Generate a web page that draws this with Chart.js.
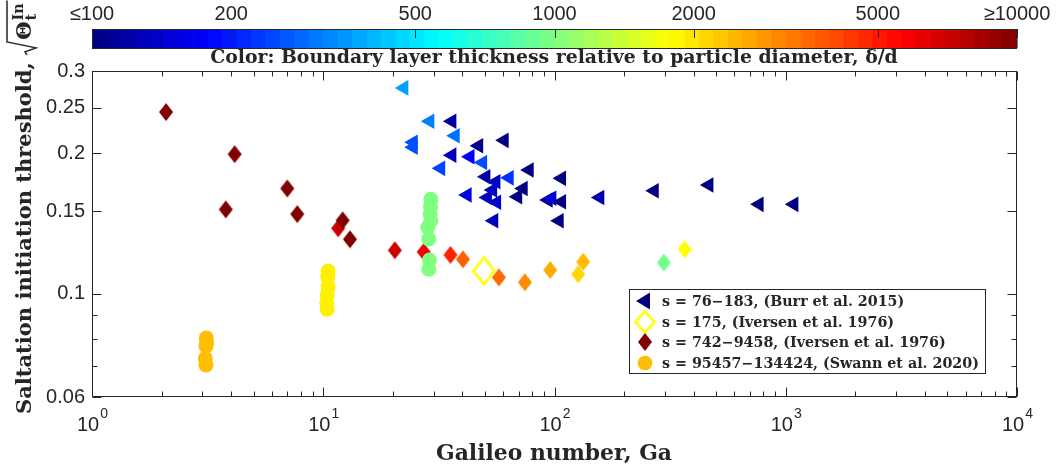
<!DOCTYPE html>
<html>
<head>
<meta charset="utf-8">
<script src="https://cdn.jsdelivr.net/npm/chart.js@4.4.1/dist/chart.umd.min.js"></script>
<style>
  body { margin: 0; background: #fff; }
  #wrap { width: 1056px; height: 469px; }
</style>
</head>
<body>
<div id="wrap"><canvas id="grafica" width="1056" height="469"></canvas></div>
<script>
// Burr et al. 2015, s = 76-183  (Ga, threshold, delta/d)
const burrGa = [22.3, 28.9, 36.0, 37.2, 24.5, 24.5, 47.0, 60.6, 36.0, 43.1, 48.9, 32.2, 50.5, 55.8, 63.7, 77.7, 107.3,
  41.9, 51.3, 56.2, 54.0, 69.3, 73.2, 93.9, 97.4, 107.3, 54.6, 104.8, 157, 270, 465, 767, 1084];
const burrTheta = [0.276, 0.234, 0.234, 0.218, 0.211, 0.206, 0.2075, 0.213, 0.198, 0.1965, 0.191, 0.1855, 0.178, 0.1737, 0.177, 0.184, 0.1766,
  0.1627, 0.1606, 0.1569, 0.1667, 0.1613, 0.168, 0.1587, 0.160, 0.1573, 0.1432, 0.1432, 0.1606, 0.1661, 0.1709, 0.1553, 0.1553];
const burrDelta = [367, 316, 116, 295, 254, 254, 108, 100, 133, 178, 254, 237, 116, 133, 221, 100, 100,
  154, 133, 140, 133, 100, 100, 116, 150, 100, 133, 100, 125, 100, 100, 100, 100];

// Iversen et al. 1976, s = 175
const iv175Ga = [49.5];
const iv175Theta = [0.1118];
const iv175Delta = [1780];

// Iversen et al. 1976, s = 742-9458
const ivGa = [2.09, 4.14, 3.79, 6.99, 7.72, 11.6, 12.13, 13.05, 20.4, 27.2, 35.5, 40.2, 57.5, 74.5, 95.8, 126.6, 133, 297, 366];
const ivTheta = [0.245, 0.199, 0.1515, 0.168, 0.148, 0.138, 0.1435, 0.1307, 0.1238, 0.1228, 0.121, 0.1184, 0.1083, 0.1057, 0.1123, 0.110, 0.117, 0.1165, 0.1244];
const ivDelta = [10000, 10000, 10000, 10000, 10000, 7100, 10000, 10000, 7100, 6050, 4870, 3650, 3500, 2985, 2600, 2140, 2420, 950, 1780];

// Swann et al. 2020, s = 95457-134424
const swGa = [3.12, 3.13, 3.11, 3.09, 3.11, 10.5, 10.45, 10.5, 10.4, 10.35, 10.4, 29.2, 29.1, 29.0, 29.2, 28.3, 28.6, 28.8, 28.6];
const swTheta = [0.0803, 0.0782, 0.0772, 0.0726, 0.0703, 0.1118, 0.1086, 0.1034, 0.0993, 0.0953, 0.0925,
  0.1592, 0.1535, 0.1479, 0.1432, 0.1387, 0.1309, 0.118, 0.1127];
const swDelta = [2370, 2370, 2370, 2370, 2370, 1900, 1900, 1900, 1900, 1900, 1900, 1000, 1000, 1000, 1000, 1000, 1000, 1000, 1000];

const yTicks = [0.06, 0.1, 0.15, 0.2, 0.25, 0.3];
const yMinor = [0.07, 0.08, 0.09];
const xDecades = [0, 1, 2, 3, 4];
const cbTicks = [100, 200, 500, 1000, 2000, 5000, 10000];
const cbLabels = ['\u2264100', '200', '500', '1000', '2000', '5000', '\u226510000'];
const legendLabels = [
  's = 76\u2212183, (Burr et al. 2015)',
  's = 175, (Iversen et al. 1976)',
  's = 742\u22129458, (Iversen et al. 1976)',
  's = 95457\u2212134424, (Swann et al. 2020)'
];

const ink = '#262626';
const serif = '"DejaVu Serif", "Liberation Serif", serif';
const sans = '"Liberation Sans", Arial, sans-serif';

// jet colormap, log scale 100..10000
function jet(dd) {
  const t = Math.log10(Math.min(Math.max(dd, 100), 10000) / 100) / 2;
  const c = v => Math.round(255 * Math.min(1, Math.max(0, v)));
  return `rgb(${c(1.5 - Math.abs(4 * t - 3))},${c(1.5 - Math.abs(4 * t - 2))},${c(1.5 - Math.abs(4 * t - 1))})`;
}

function diamante(color, w, h, filled, lw) {
  const pad = lw ? Math.ceil(lw) : 1;
  const cv = document.createElement('canvas');
  cv.width = w + 2 * pad;
  cv.height = h + 2 * pad;
  const c = cv.getContext('2d');
  c.beginPath();
  c.moveTo(cv.width / 2, pad);
  c.lineTo(cv.width - pad, cv.height / 2);
  c.lineTo(cv.width / 2, cv.height - pad);
  c.lineTo(pad, cv.height / 2);
  c.closePath();
  if (filled) { c.fillStyle = color; c.fill(); }
  else { c.strokeStyle = color; c.lineWidth = lw; c.stroke(); }
  return cv;
}

const puntos = (xs, ys) => xs.map((g, i) => ({ x: g, y: ys[i] }));

function fitFont(ctx, text, target, weight, family) {
  ctx.font = `${weight} 20px ${family}`;
  const s = 20 * target / ctx.measureText(text).width;
  return { size: s, font: `${weight} ${s.toFixed(2)}px ${family}` };
}

const decor = {
  id: 'decor',
  afterDraw(chart) {
    const { ctx, chartArea: a } = chart;
    const sx = chart.scales.x, sy = chart.scales.y;
    ctx.save();
    ctx.strokeStyle = ink;
    ctx.fillStyle = ink;
    ctx.lineWidth = 1;

    // box + inward ticks
    const L = Math.round(a.left) + 0.5, R = Math.round(a.right) - 0.5;
    const T = Math.round(a.top) + 0.5, B = Math.round(a.bottom) - 0.5;
    ctx.strokeRect(L, T, R - L, B - T);
    ctx.beginPath();
    xDecades.forEach(e => {
      for (let m = 1; m <= 9; m++) {
        if (e === 4 && m > 1) break;
        const px = Math.round(sx.getPixelForValue(m * Math.pow(10, e))) + 0.5;
        const len = m === 1 ? 9 : 5;
        ctx.moveTo(px, B); ctx.lineTo(px, B - len);
        ctx.moveTo(px, T); ctx.lineTo(px, T + len);
      }
    });
    yTicks.concat(yMinor).forEach(v => {
      const py = Math.round(sy.getPixelForValue(v)) + 0.5;
      const len = yMinor.includes(v) ? 5 : 9;
      ctx.moveTo(L, py); ctx.lineTo(L + len, py);
      ctx.moveTo(R, py); ctx.lineTo(R - len, py);
    });
    ctx.stroke();

    // tick labels
    ctx.font = `20px ${sans}`;
    ctx.textAlign = 'right';
    ctx.textBaseline = 'middle';
    yTicks.forEach(v => ctx.fillText(String(v), a.left - 7, sy.getPixelForValue(v)));
    ctx.textBaseline = 'alphabetic';
    ctx.textAlign = 'left';
    xDecades.forEach(e => {
      const px = sx.getPixelForValue(Math.pow(10, e));
      ctx.font = `20px ${sans}`;
      const wb = ctx.measureText('10').width;
      ctx.font = `14px ${sans}`;
      const ws = ctx.measureText(String(e)).width;
      const x0 = px - (wb + ws) / 2;
      ctx.font = `20px ${sans}`;
      ctx.fillText('10', x0, a.bottom + 34);
      ctx.font = `14px ${sans}`;
      ctx.fillText(String(e), x0 + wb + 1, a.bottom + 21);
    });

    // colorbar
    const cbTop = 29, cbH = 19, n = 64;
    const cbW = a.right - a.left;
    for (let i = 0; i < n; i++) {
      const t = (i + 0.5) / n;
      ctx.fillStyle = jet(100 * Math.pow(10, 2 * t));
      ctx.fillRect(a.left + cbW * i / n, cbTop, cbW / n + 0.6, cbH);
    }
    ctx.strokeStyle = ink;
    ctx.strokeRect(L, cbTop + 0.5, R - L, cbH);
    ctx.beginPath();
    const cbX = v => a.left + cbW * Math.log10(v / 100) / 2;
    cbTicks.forEach(v => {
      const px = Math.round(cbX(v)) + 0.5;
      ctx.moveTo(px, cbTop); ctx.lineTo(px, cbTop + 9);
    });
    ctx.stroke();
    ctx.fillStyle = ink;
    ctx.font = `20px ${sans}`;
    ctx.textAlign = 'center';
    cbTicks.forEach((v, i) => ctx.fillText(cbLabels[i], cbX(v), 20));

    // titles
    const cbTitle = 'Color: Boundary layer thickness relative to particle diameter, \u03b4/d';
    ctx.font = fitFont(ctx, cbTitle, 688, 'bold', serif).font;
    ctx.fillText(cbTitle, 554, 63);
    const xTitle = 'Galileo number, Ga';
    ctx.font = fitFont(ctx, xTitle, 236, 'bold', serif).font;
    ctx.fillText(xTitle, 554, 460);

    const yMain = 'Saltation initiation threshold,';
    const fy = fitFont(ctx, yMain, 352, 'bold', serif);
    ctx.save();
    ctx.translate(31, 414);
    ctx.rotate(-Math.PI / 2);
    ctx.textAlign = 'left';
    ctx.font = fy.font;
    ctx.fillText(yMain, 0, 0);
    const tx = ctx.measureText(yMain + ' ').width;
    const wTh = ctx.measureText('\u0398').width;
    ctx.fillText('\u0398', tx + 15, 0);
    const small = `bold ${(fy.size * 0.68).toFixed(2)}px ${serif}`;
    ctx.font = small;
    const wIn = ctx.measureText('In').width;
    ctx.fillText('In', tx + 16 + wTh, -8);
    ctx.fillText('t', tx + 16 + wTh, 5);
    ctx.lineWidth = 1.5;
    ctx.beginPath();
    ctx.moveTo(tx, -4);
    ctx.lineTo(tx + 3, -6);
    ctx.lineTo(tx + 7, 5);
    ctx.lineTo(tx + 13, -24);
    ctx.lineTo(tx + 19 + wTh + wIn, -24);
    ctx.stroke();
    ctx.restore();

    // legend
    const lx = 629.5, ly = 289.5, lw = 356, lh = 84;
    ctx.fillStyle = '#fff';
    ctx.fillRect(lx, ly, lw, lh);
    ctx.strokeStyle = ink;
    ctx.lineWidth = 1;
    ctx.strokeRect(lx, ly, lw, lh);
    const rows = [301, 322, 342, 363];
    const mx = 645;
    ctx.fillStyle = jet(100);
    ctx.beginPath();
    ctx.moveTo(mx - 9, rows[0]); ctx.lineTo(mx + 5, rows[0] - 8.5); ctx.lineTo(mx + 5, rows[0] + 8.5);
    ctx.closePath(); ctx.fill();
    const dh = diamante(jet(1780), 19, 21, false, 2.6);
    ctx.drawImage(dh, mx - dh.width / 2, rows[1] - dh.height / 2);
    const df = diamante(jet(10000), 14, 18, true);
    ctx.drawImage(df, mx - df.width / 2, rows[2] - df.height / 2);
    ctx.fillStyle = jet(2370);
    ctx.beginPath(); ctx.arc(mx, rows[3], 7.3, 0, Math.PI * 2); ctx.fill();
    ctx.fillStyle = ink;
    ctx.font = fitFont(ctx, legendLabels[3], 317, 'bold', serif).font;
    ctx.textAlign = 'left';
    ctx.textBaseline = 'middle';
    legendLabels.forEach((t, i) => ctx.fillText(t, 662, rows[i] + 1));
    ctx.restore();
  }
};

new Chart(document.getElementById('grafica'), {
  type: 'scatter',
  data: {
    datasets: [
      {
        label: legendLabels[3],
        data: puntos(swGa, swTheta),
        pointStyle: 'circle',
        pointRadius: 7.5,
        pointBorderWidth: 0,
        pointBackgroundColor: swDelta.map(jet),
        order: 0
      },
      {
        label: legendLabels[2],
        data: puntos(ivGa, ivTheta),
        pointStyle: ivDelta.map(d => diamante(jet(d), 14, 18, true)),
        pointRadius: 9,
        pointBorderWidth: 0,
        order: 1
      },
      {
        label: legendLabels[1],
        data: puntos(iv175Ga, iv175Theta),
        pointStyle: iv175Delta.map(d => diamante(jet(d), 21, 27, false, 2.6)),
        pointRadius: 13,
        pointBorderWidth: 0,
        order: 2
      },
      {
        label: legendLabels[0],
        data: puntos(burrGa, burrTheta),
        pointStyle: 'triangle',
        pointRotation: -90,
        pointRadius: 9,
        pointBorderWidth: 0,
        pointBackgroundColor: burrDelta.map(jet),
        order: 3
      }
    ]
  },
  options: {
    responsive: false,
    animation: false,
    devicePixelRatio: 1,
    layout: { padding: { left: 92, right: 39, top: 71, bottom: 72 } },
    scales: {
      x: { type: 'logarithmic', min: 1, max: 10000, display: false },
      y: { type: 'logarithmic', min: 0.06, max: 0.3, display: false }
    },
    plugins: {
      legend: { display: false },
      tooltip: { enabled: false }
    }
  },
  plugins: [decor]
});
</script>
</body>
</html>
